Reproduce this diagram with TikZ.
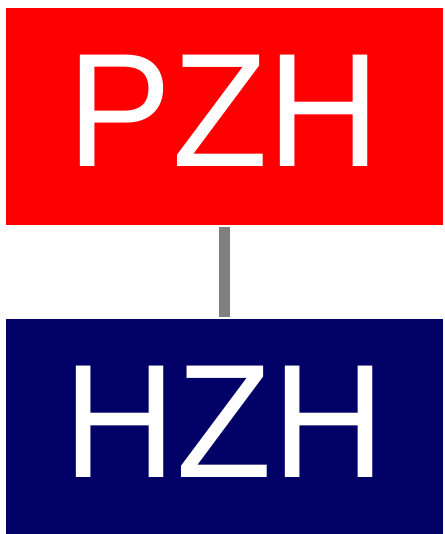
\documentclass[tikz,border=0pt]{standalone}
\usepackage{fontspec}
\setmainfont{Liberation Sans}
\tikzset{boxnode/.style={anchor=north west,inner sep=0pt,outer sep=0pt,minimum width=436.7pt,text=white,font=\fontsize{156.5}{156.5}\selectfont,align=center}}
\definecolor{navy}{RGB}{0,0,102}
\begin{document}
\begin{tikzpicture}[x=1pt,y=-1pt]
\useasboundingbox (0,0) rectangle (444,534);
\node[boxnode,fill=red,minimum height=217.3pt] (p) at (6,7.7) {\raisebox{11.3pt}{\scalebox{1}[1.035]{PZH}}};
\node[boxnode,fill=navy,minimum height=214.7pt] (h) at (6,319.3) {\raisebox{9.8pt}{\scalebox{1}[1.035]{HZH}}};
\draw[draw=gray,line width=11pt,shorten >=2pt,shorten <=2pt] (p.south) -- (h.north);
\end{tikzpicture}
\end{document}
